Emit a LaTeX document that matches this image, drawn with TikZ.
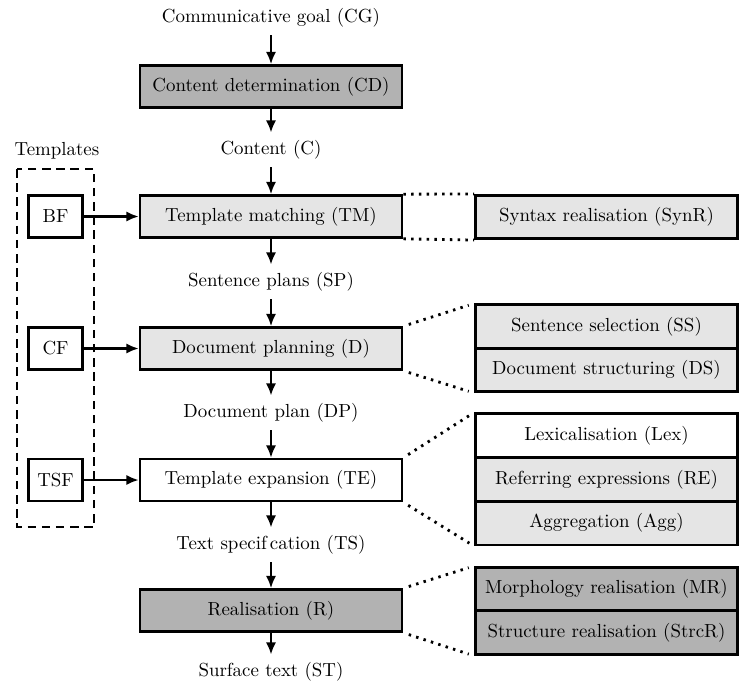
\documentclass[tikz,border=0pt]{standalone}
\usetikzlibrary{arrows.meta}
\begin{document}
\begin{tikzpicture}[x=0.529pt,y=-0.529pt,
  every node/.style={font=\fontsize{10pt}{12pt}\selectfont},
  mainbox/.style={draw,line width=1.4pt,minimum width=138.6pt,minimum height=22.2pt,inner sep=0pt},
  subbox/.style={draw,line width=1.4pt,minimum width=138.6pt,minimum height=23pt,inner sep=0pt},
  sidebox/.style={draw,line width=1.4pt,minimum width=28.6pt,minimum height=22.2pt,inner sep=0pt},
  label/.style={inner sep=4pt},
  dark/.style={fill=black!30},
  light/.style={fill=black!10},
  arr/.style={line width=1.4pt,-{Latex[length=6.5pt,width=5.5pt]}},
  dots/.style={line width=1.5pt,dash pattern=on 1.3pt off 2.8pt},
  dashbox/.style={line width=1.4pt,dash pattern=on 4.5pt off 3pt}]
\useasboundingbox (0,0) rectangle (740,687);
% main column
\node[label] (CG) at (271,18) {Communicative goal (CG)};
\node[mainbox,dark] (CD) at (271,86.5) {Content determination (CD)};
\node[label] (C) at (271,150) {Content (C)};
\node[mainbox,light] (TM) at (271,216.5) {Template matching (TM)};
\node[label] (SP) at (271,282) {Sentence plans (SP)};
\node[mainbox,light] (D) at (271,348.5) {Document planning (D)};
\node[label] (DP) at (271,413) {Document plan (DP)};
\node[mainbox,fill=white] (TE) at (271,480) {Template expansion (TE)};
\node[label] (TS) at (271,545) {Text specif\,cation (TS)};
\node[mainbox,dark] (R) at (271,610.5) {Realisation (R)};
\node[label] (ST) at (271,672) {Surface text (ST)};
\draw[arr] (CG) -- (CD);
\draw[arr] (CD) -- (C);
\draw[arr] (C) -- (TM);
\draw[arr] (TM) -- (SP);
\draw[arr] (SP) -- (D);
\draw[arr] (D) -- (DP);
\draw[arr] (DP) -- (TE);
\draw[arr] (TE) -- (TS);
\draw[arr] (TS) -- (R);
\draw[arr] (R) -- (ST);
% templates
\node (Tpl) at (57,151) {Templates};
\draw[dashbox] (17,169) rectangle (94,527);
\node[sidebox,fill=white] (BF) at (55.5,216.5) {BF};
\node[sidebox,fill=white] (CF) at (55.5,348.5) {CF};
\node[sidebox,fill=white] (TSF) at (55.5,480) {TSF};
\draw[arr] (BF) -- (TM);
\draw[arr] (CF) -- (D);
\draw[arr] (TSF) -- (TE);
% right column
\node[subbox,light] (SynR) at (606.5,217) {Syntax realisation (SynR)};
\node[subbox,light] (SS) at (606.5,326.5) {Sentence selection (SS)};
\node[subbox,light] (DS) at (606.5,370) {Document structuring (DS)};
\node[subbox,fill=white] (Lex) at (606.5,435.5) {Lexicalisation (Lex)};
\node[subbox,light] (RE) at (606.5,479.3) {Referring expressions (RE)};
\node[subbox,light] (Agg) at (606.5,523.1) {Aggregation (Agg)};
\node[subbox,dark] (MR) at (606.5,589) {Morphology realisation (MR)};
\node[subbox,dark] (StrcR) at (606.5,632.8) {Structure realisation (StrcR)};
% dotted links
\draw[dots] (TM.north east) -- (SynR.north west);
\draw[dots] (TM.south east) -- (SynR.south west);
\draw[dots,shorten <=3pt,shorten >=3pt] (D.north east) -- (SS.north west);
\draw[dots,shorten <=3pt,shorten >=3pt] (D.south east) -- (DS.south west);
\draw[dots,shorten <=3pt,shorten >=3pt] (TE.north east) -- (Lex.north west);
\draw[dots,shorten <=3pt,shorten >=3pt] (TE.south east) -- (Agg.south west);
\draw[dots,shorten <=3pt,shorten >=3pt] (R.north east) -- (MR.north west);
\draw[dots,shorten <=3pt,shorten >=3pt] (R.south east) -- (StrcR.south west);
\end{tikzpicture}
\end{document}
